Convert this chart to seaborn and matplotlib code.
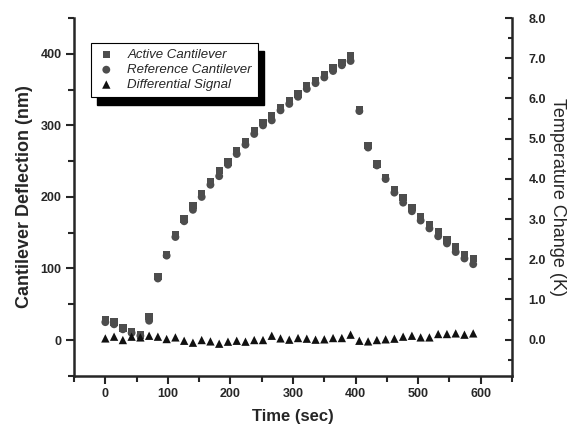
import matplotlib
matplotlib.use("Agg")
import matplotlib.pyplot as plt
import seaborn as sns
from matplotlib.ticker import MultipleLocator, FormatStrFormatter
from matplotlib.patches import Rectangle

# data
time_sec = [0, 14, 28, 42, 56, 70, 84, 98, 112, 126, 140, 154, 168, 182, 196,
            210, 224, 238, 252, 266, 280, 294, 308, 322, 336, 350, 364, 378,
            392, 406, 420, 434, 448, 462, 476, 490, 504, 518, 532, 546, 560,
            574, 588]
active = [29, 25, 17, 12, 7, 33, 89, 120, 147, 169, 188, 204, 221, 237, 249,
          264, 277, 292, 304, 314, 325, 334, 344, 355, 363, 371, 380, 388,
          397, 322, 272, 246, 227, 210, 199, 185, 172, 161, 152, 140, 130,
          120, 114]
reference = [25, 22, 15, 10, 6, 27, 86, 118, 144, 166, 182, 200, 217, 229, 245,
             260, 273, 288, 300, 307, 321, 330, 340, 351, 359, 367, 376, 384,
             390, 320, 269, 244, 225, 206, 192, 180, 167, 156, 145, 135, 123,
             114, 106]
differential = [2.3, 4.7, 0, 4.7, 3.7, 6, 4.7, 1.4, 3.7, -1, -3.7, 0, -1.9, -5.1,
                -2.3, -1, -2.3, 0, 0, 6, 2.3, 0.5, 2.8, 1.9, 0.5, 1, 2.8, 2.8,
                7.5, -1, -1.9, 0, 1, 1.9, 4.7, 6, 3.7, 3.7, 8.4, 8.4, 9.3, 7.5,
                9.3]

sns.set_style("ticks")
plt.rcParams["font.family"] = ["Liberation Sans", "DejaVu Sans"]

fig = plt.figure(figsize=(5.74, 4.30), dpi=100)
ax = fig.add_axes([0.129, 0.126, 0.763, 0.832])

gray = "#4d4d4d"
sns.scatterplot(x=time_sec, y=active, marker="s", s=28, color=gray,
                edgecolor="none", label="Active Cantilever", ax=ax)
sns.scatterplot(x=time_sec, y=reference, marker="o", s=32, color=gray,
                edgecolor="none", label="Reference Cantilever", ax=ax)
sns.scatterplot(x=time_sec, y=differential, marker="^", s=36, color="#111111",
                edgecolor="none", label="Differential Signal", ax=ax)

ax.set_xlim(-50, 650)
ax.set_ylim(-50, 450)
ax.xaxis.set_major_locator(MultipleLocator(100))
ax.xaxis.set_minor_locator(MultipleLocator(50))
ax.yaxis.set_major_locator(MultipleLocator(100))
ax.yaxis.set_minor_locator(MultipleLocator(50))
ax.tick_params(which="both", direction="out", width=1.5, labelsize=9, pad=3)
ax.tick_params(which="major", length=6)
ax.tick_params(which="minor", length=4)
for lab in ax.get_xticklabels() + ax.get_yticklabels():
    lab.set_fontweight("bold")

for side in ["left", "bottom"]:
    ax.spines[side].set_linewidth(1.8)
ax.spines["top"].set_visible(False)
ax.spines["right"].set_visible(False)

ax.set_xlabel("Time (sec)", fontsize=12, fontweight="bold", labelpad=6)
ax.set_ylabel("Cantilever Deflection (nm)", fontsize=13, fontweight="bold",
              labelpad=5)

# right axis: temperature scale
ax2 = ax.twinx()
ax2.set_ylim(-0.9, 8.0)
ax2.yaxis.set_major_locator(MultipleLocator(1.0))
ax2.yaxis.set_minor_locator(MultipleLocator(0.5))
ax2.yaxis.set_major_formatter(FormatStrFormatter("%.1f"))
ax2.tick_params(which="both", direction="in", width=1.5, labelsize=9, pad=12)
ax2.tick_params(which="major", length=5)
ax2.tick_params(which="minor", length=3)
for lab in ax2.get_yticklabels():
    lab.set_fontweight("bold")
for side in ["top", "left", "bottom"]:
    ax2.spines[side].set_visible(False)
ax2.spines["right"].set_linewidth(1.8)
ax2.set_ylabel("Temperature Change (K)", fontsize=13, rotation=270,
               labelpad=14)

leg = ax.legend(loc="upper left", bbox_to_anchor=(0.039, 0.93),
                borderaxespad=0, frameon=True, fancybox=False,
                edgecolor="black", framealpha=1, handlelength=1.4,
                handletextpad=0.9, borderpad=0.45, labelspacing=0.2,
                prop=dict(style="italic", size=9.5))
leg.get_frame().set_linewidth(0.8)
leg.set_zorder(10)
ax.set_zorder(ax2.get_zorder() + 1)
ax.patch.set_visible(False)

# black drop shadow behind the legend box
fig.canvas.draw()
bb = leg.get_window_extent().transformed(ax.transAxes.inverted())
dx = 6 / (0.763 * 574)
dy = 8 / (0.832 * 430)
ax.add_patch(Rectangle((bb.x0 + dx, bb.y0 - dy), bb.width, bb.height,
                       transform=ax.transAxes, color="black", zorder=9,
                       clip_on=False))

fig.savefig("out.png", dpi=100)
